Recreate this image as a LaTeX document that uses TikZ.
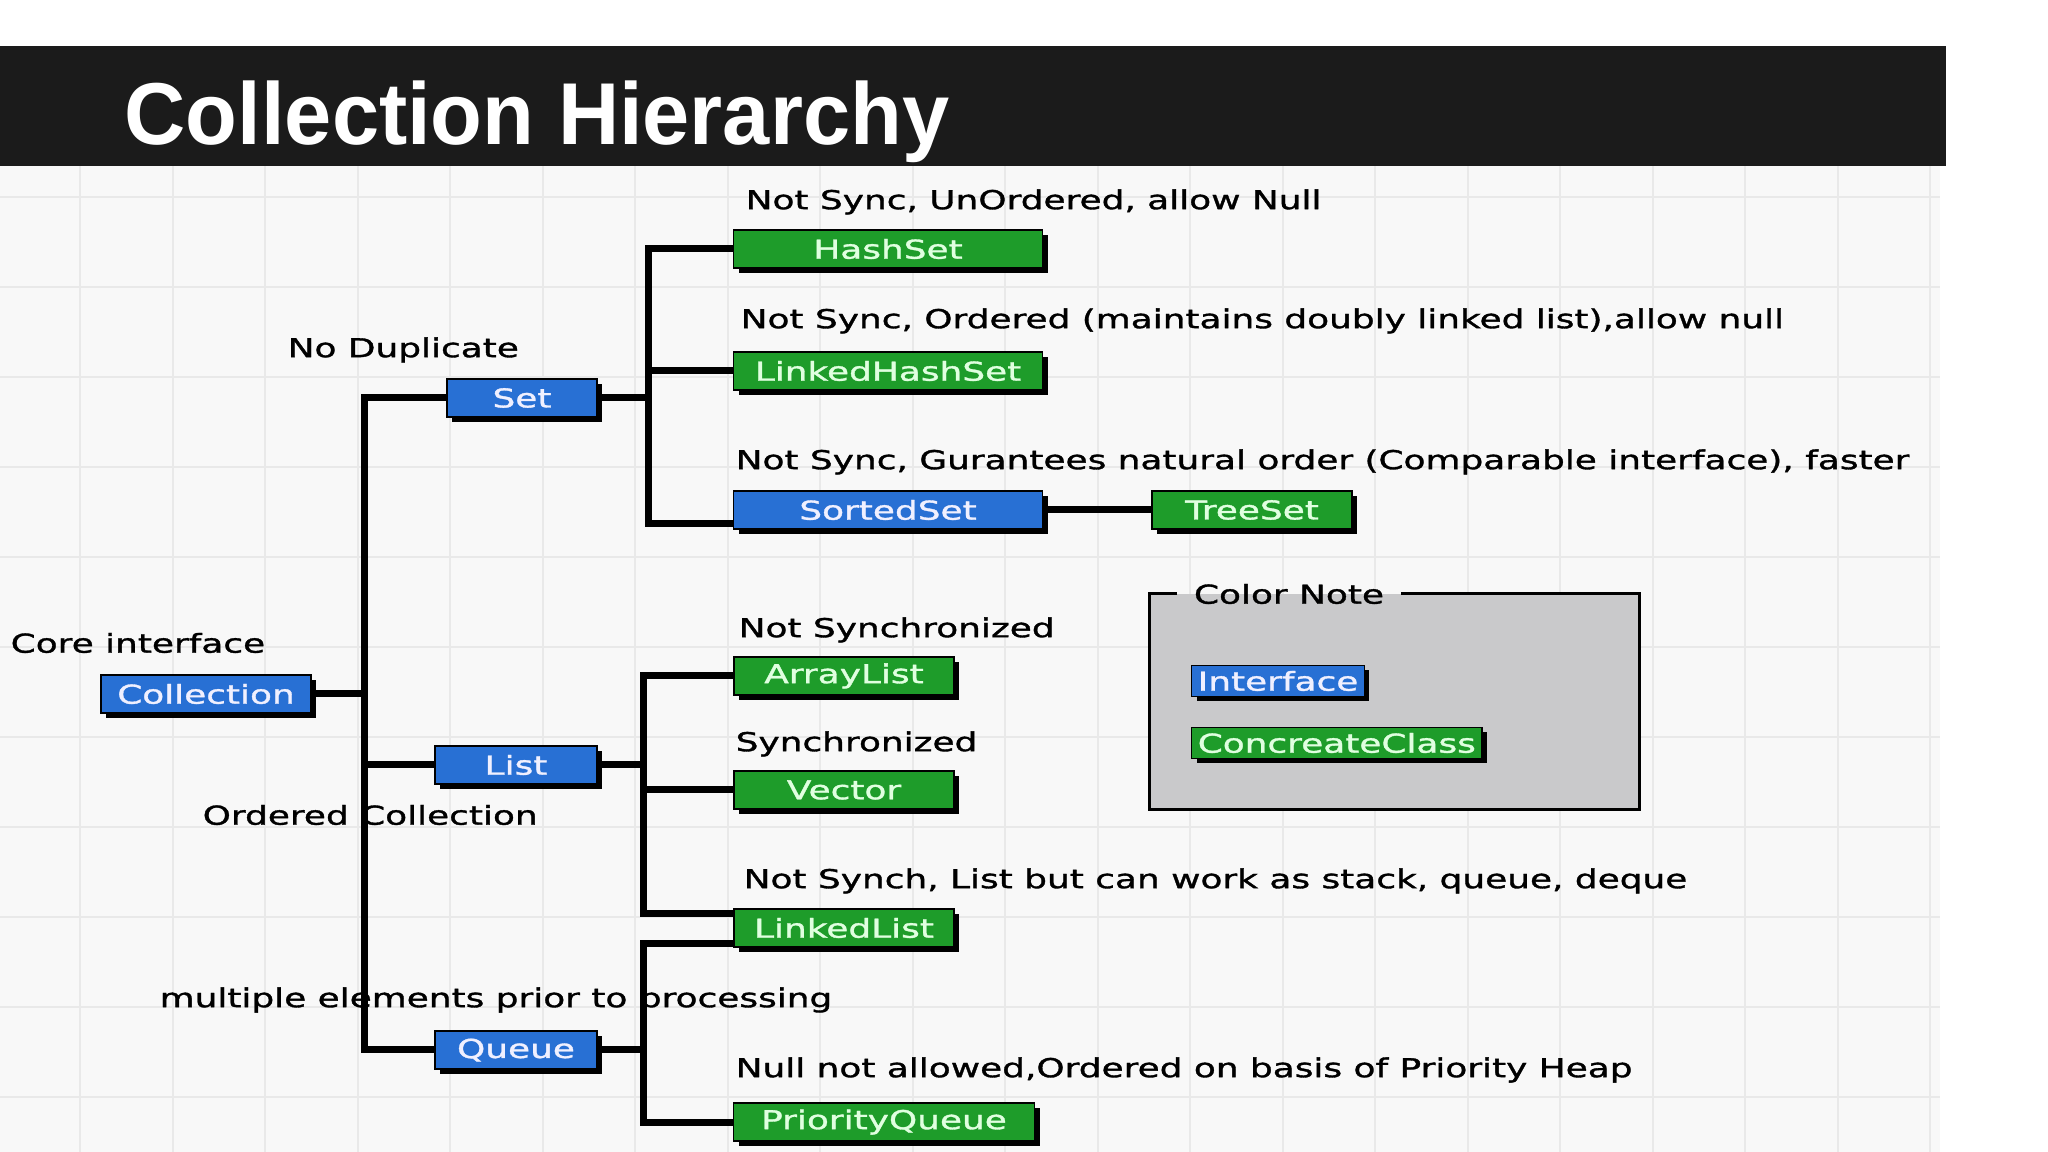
\documentclass[tikz,border=0pt]{standalone}
\usepackage{fontspec}
\setmainfont{DejaVu Sans}[FakeStretch=1.38, FakeBold=1.3]
\newfontfamily\titlefont{Liberation Sans}[FakeStretch=0.965]
\usetikzlibrary{shadows,calc}

\definecolor{ifblue}{RGB}{40,112,212}
\definecolor{clgreen}{RGB}{30,156,42}
\definecolor{gridbg}{RGB}{248,248,248}
\definecolor{gridln}{RGB}{233,233,233}
\definecolor{notegray}{RGB}{201,201,203}
\definecolor{barblack}{RGB}{27,27,27}

\newcommand{\notefont}{\fontsize{7.4pt}{8pt}\selectfont}

\begin{document}
\begin{tikzpicture}[x=0.1mm, y=-0.1mm,
  box/.style = {draw=black, line width=0.4pt, minimum height=3.8mm, inner sep=0pt,
                font=\notefont, drop shadow={shadow xshift=0.5mm, shadow yshift=-0.5mm, opacity=1, fill=black}},
  ifc/.style = {box, fill=ifblue, text=blue!6},
  cls/.style = {box, fill=clgreen, text=green!12},
  note/.style = {anchor=west, inner sep=0pt, font=\notefont},
  wire/.style = {line width=0.7mm}]
\useasboundingbox (0,0) rectangle (2048,1152);

% sheet and grid
\fill[white] (0,0) rectangle (2048,1152);
\fill[gridbg] (0,166) rectangle (1940,1152);
\foreach \gx in {80,172.5,...,1940} \draw[gridln, line width=0.2mm] (\gx,166) -- (\gx,1152);
\foreach \gy in {197,287,...,1152} \draw[gridln, line width=0.2mm] (0,\gy) -- (1940,\gy);

% title bar
\fill[barblack] (0,46) rectangle (1946,166);
\node[anchor=base west, inner sep=0pt, text=white, font=\titlefont\bfseries\fontsize{25pt}{28pt}\selectfont] (title) at (124,145) {Collection Hierarchy};

% interfaces
\node[ifc, minimum width=21mm]   (coll)  at (206,694)  {Collection};
\node[ifc, minimum width=15mm]   (set)   at (522,398)  {Set};
\node[ifc, minimum width=16.2mm] (list)  at (516,765)  {List};
\node[ifc, minimum width=16.2mm] (queue) at (516,1050) {Queue};

% classes
\node[cls, minimum width=30.9mm] (hashset) at (888,249)  {HashSet};
\node[cls, minimum width=30.9mm] (lhset)   at (888,371)  {LinkedHashSet};
\node[ifc, minimum width=30.9mm] (sortset) at (888,510)  {SortedSet};
\node[cls, minimum width=20mm]   (treeset) at (1252,510) {TreeSet};
\node[cls, minimum width=22mm]   (alist)   at (844,676)  {ArrayList};
\node[cls, minimum width=22mm]   (vector)  at (844,790)  {Vector};
\node[cls, minimum width=22mm]   (llist)   at (844,928)  {LinkedList};
\node[cls, minimum width=30.1mm] (pqueue)  at (884,1122) {PriorityQueue};

% notes
\node[note] (corenote)  at (10,643)   {Core interface};
\node[note] (dupnote)   at (287,350)  {No Duplicate};
\node[note] (ordnote)   at (202,815)  {Ordered Collection};
\node[note] (multinote) at (159,1000) {multiple elements prior to processing};
\node[note] (hsnote)    at (745,202)  {Not Sync, UnOrdered, allow Null};
\node[note] (lhsnote)   at (740,321)  {Not Sync, Ordered (maintains doubly linked list),allow null};
\node[note] (ssnote)    at (735,462)  {Not Sync, Gurantees natural order (Comparable interface), faster};
\node[note] (alnote)    at (738,630)  {Not Synchronized};
\node[note] (vecnote)   at (735,744)  {Synchronized};
\node[note] (llnote)    at (743,881)  {Not Synch, List but can work as stack, queue, deque};
\node[note] (pqnote)    at (735,1070) {Null not allowed,Ordered on basis of Priority Heap};

% trunk
\coordinate (trunk) at (364,765);
\draw[wire] (coll.east) -- (coll.east -| trunk);
\draw[wire] (set.west) -| (trunk) |- (queue.west);
\draw[wire] (list.west) -- (list.west -| trunk);

% set branch
\coordinate (setbus) at (648,398);
\draw[wire] (set.east) -- (setbus);
\draw[wire] (hashset.west) -| (setbus) |- ($(sortset.west)+(0,14)$);
\draw[wire] (lhset.west) -- (lhset.west -| setbus);
\draw[wire] (sortset.east) -- (treeset.west);

% list branch
\coordinate (listbus) at (643,765);
\draw[wire] (list.east) -- (listbus);
\draw[wire] (alist.west) -| (listbus) |- ($(llist.west)+(0,-14)$);
\draw[wire] (vector.west) -- (vector.west -| listbus);

% queue branch
\coordinate (queuebus) at (643,1050);
\draw[wire] (queue.east) -- (queuebus);
\draw[wire] ($(llist.west)+(0,16)$) -| (queuebus) |- (pqueue.west);

% color note
\fill[notegray] (1149,594) rectangle (1639,810);
\node[note, anchor=center, inner xsep=1.6mm] (cnote) at (1289,594) {Color Note};
\draw[line width=0.3mm] (cnote.west) -| (1149,810) -| (1639,594) -- (cnote.east);
\node[ifc, anchor=west, minimum height=3.1mm, inner xsep=0.6mm] (ifkey) at (1191,681) {Interface};
\node[cls, anchor=west, minimum height=3.1mm, inner xsep=0.6mm] (clkey) at (1191,743) {ConcreateClass};

\end{tikzpicture}
\end{document}
